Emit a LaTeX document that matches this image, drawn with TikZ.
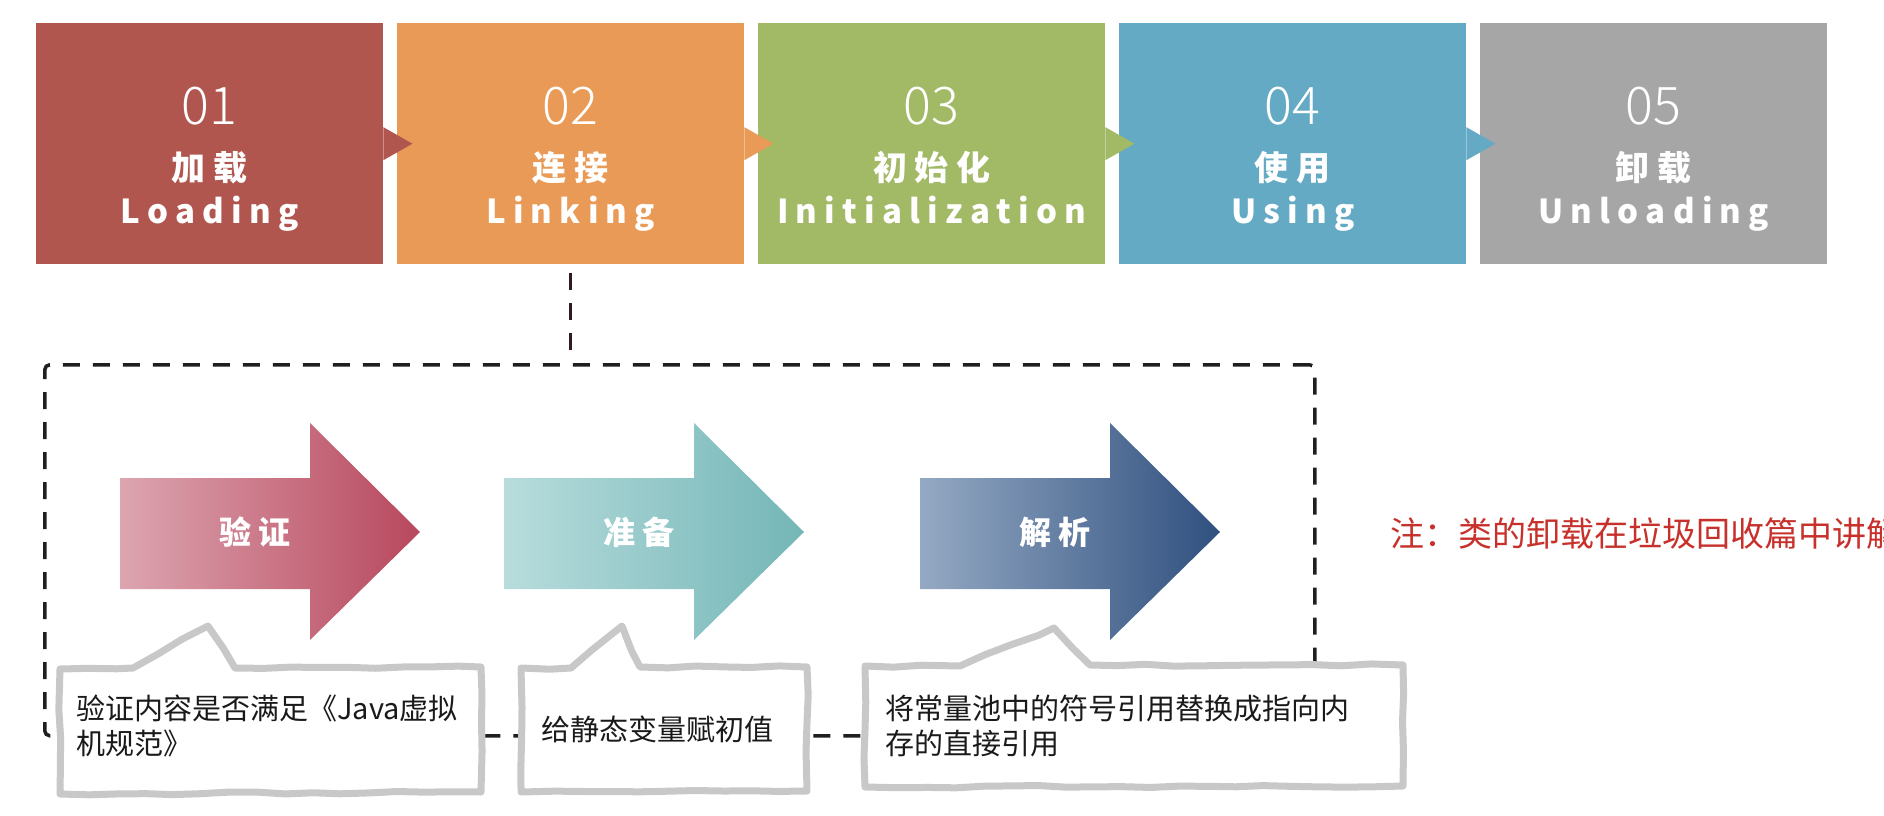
\documentclass[tikz,border=0pt]{standalone}
\usepackage{fontspec}
\setmainfont{Noto Sans CJK SC}
\newfontfamily\numfont{Noto Sans CJK SC}[UprightFont=* Light]
\newfontfamily\widefont{Noto Sans CJK SC}[LetterSpace=22]
\usepackage{xcolor}
\usetikzlibrary{decorations.pathmorphing}

\definecolor{stred}{HTML}{B1564F}
\definecolor{storange}{HTML}{E99A56}
\definecolor{stgreen}{HTML}{A2B966}
\definecolor{stblue}{HTML}{65AAC4}
\definecolor{stgray}{HTML}{A6A6A6}
\definecolor{verlight}{HTML}{DCA5B0}
\definecolor{verdark}{HTML}{B8485E}
\definecolor{prelight}{HTML}{B8DCDC}
\definecolor{predark}{HTML}{74B6B7}
\definecolor{reslight}{HTML}{94A9C3}
\definecolor{resdark}{HTML}{30507F}
\definecolor{bubblegray}{HTML}{C8C8C8}
\definecolor{framedark}{HTML}{1F1F1F}
\definecolor{linkdark}{HTML}{2E1C1E}
\definecolor{notered}{HTML}{C8312B}
\definecolor{textdark}{HTML}{1A1A1A}

\begin{document}
\begin{tikzpicture}[x=1pt, y=-1pt,
  stage/.style={minimum width=347pt, minimum height=241pt, inner sep=0pt, anchor=north west},
  numtxt/.style={text=white, anchor=base, font=\numfont\fontsize{52}{52}\selectfont},
  cntxt/.style={text=white, anchor=base, font=\widefont\bfseries\fontsize{34}{34}\selectfont},
  entxt/.style={text=white, anchor=base, font=\widefont\bfseries\fontsize{33}{33}\selectfont},
  steplbl/.style={text=white, font=\widefont\bfseries\fontsize{32}{32}\selectfont},
  frame/.style={draw=framedark, line width=3.5pt, dash pattern=on 17pt off 13pt},
  bubble/.style={draw=bubblegray, line width=7pt, fill=white, line join=round, decorate, decoration={random steps, segment length=28pt, amplitude=1.2pt}},
  bubbletxt/.style={inner sep=0pt, align=left, text=textdark, font=\fontsize{29}{35}\selectfont},
]
\pgfmathsetseed{7}
\useasboundingbox (0,0) rectangle (1884,816);
\clip (0,0) rectangle (1884,816);

\foreach \i/\col/\cn/\en in {5/stgray/卸载/Unloading, 4/stblue/使用/Using, 3/stgreen/初始化/Initialization, 2/storange/连接/Linking, 1/stred/加载/Loading}{
  \pgfmathtruncatemacro\xl{36+361*(\i-1)}
  \node[stage, fill=\col] (s\i) at (\xl,23) {};
  \ifnum\i<5
    \fill[\col] ([yshift=16.5pt]s\i.east) -- ([xshift=29pt]s\i.east) -- ([yshift=-16.5pt]s\i.east) -- cycle;
  \fi
  \node[numtxt] (s\i num) at ([yshift=-101pt]s\i.north) {0\i};
  \node[cntxt] (s\i cn) at ([yshift=-157pt]s\i.north) {\cn};
  \node[entxt] (s\i en) at ([yshift=-200pt]s\i.north) {\en};
}

\node[frame, rounded corners=5pt, minimum width=1270pt, minimum height=371pt, anchor=north west] (linkframe) at (43,363) {};
\draw[frame, draw=linkdark] ([yshift=-9pt]s2.south) -- (s2.south |- linkframe.north);

\foreach \k/\xa/\ca/\cb/\lbl in {1/120/verlight/verdark/验证, 2/504/prelight/predark/准备, 3/920/reslight/resdark/解析}{
  \shade[left color=\ca, right color=\cb] (\xa,478) -- ++(190,0) -- ++(0,-55) -- ++(110,109) -- ++(-110,108) -- ++(0,-51) -- ++(-190,0) -- cycle;
  \node[steplbl] (a\k) at (\xa+135,532) {\lbl};
}

\filldraw[bubble] (60,669) -- (133,668) -- (208,626) -- (235,668) -- (481,667) -- (481,792) -- (60,794) -- cycle;
\filldraw[bubble] (521,668) -- (571,668) -- (622,626) -- (640,667) -- (807,667) -- (807,791) -- (521,792) -- cycle;
\filldraw[bubble] (865,666) -- (960,666) -- (1054,628) -- (1090,665) -- (1403,665) -- (1403,786) -- (865,787) -- cycle;

\node[bubbletxt, anchor=north west] (t1) at (76,695) {验证内容是否满足《Java虚拟\\机规范》};
\node[bubbletxt, anchor=base west] (t2) at (541,740) {给静态变量赋初值};
\node[bubbletxt, anchor=north west] (t3) at (885,695) {将常量池中的符号引用替换成指向内\\存的直接引用};

\node[anchor=base west, inner sep=0pt, text=notered, font=\fontsize{34}{34}\selectfont] (note) at (1390,546) {注：类的卸载在垃圾回收篇中讲解};

\end{tikzpicture}
\end{document}
